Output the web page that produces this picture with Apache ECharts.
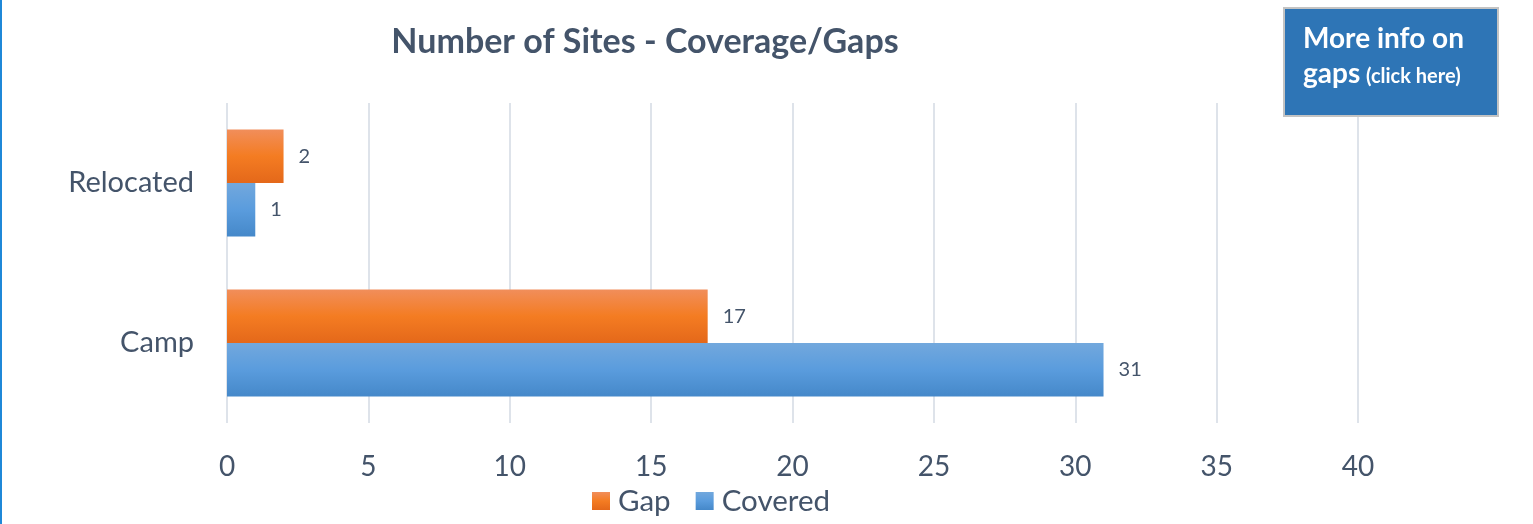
<!DOCTYPE html>
<html>
<head>
<meta charset="utf-8">
<script src="https://cdn.jsdelivr.net/npm/echarts@6/dist/echarts.min.js"></script>
<style>
html,body{margin:0;padding:0;background:#fff;}
#chart{width:1533px;height:524px;}
</style>
</head>
<body>
<div id="chart"></div>
<script>
const categories = ['Camp', 'Relocated'];
const gapValues = [17, 2];
const coveredValues = [31, 1];
const seriesNames = ['Gap', 'Covered'];
const xTicks = { min: 0, max: 40, interval: 5 };

const textColor = '#44546a';
const fontFam = 'Lato, "Open Sans", sans-serif';

const orangeGrad = new echarts.graphic.LinearGradient(0, 0, 0, 1, [
  { offset: 0, color: '#f18e5b' },
  { offset: 0.5, color: '#f47c22' },
  { offset: 1, color: '#e4681a' }
]);
const blueGrad = new echarts.graphic.LinearGradient(0, 0, 0, 1, [
  { offset: 0, color: '#72a8dd' },
  { offset: 0.5, color: '#5a9cdd' },
  { offset: 1, color: '#4588c9' }
]);

const chart = echarts.init(document.getElementById('chart'), null, { renderer: 'canvas' });

const labelCfg = {
  show: true,
  position: 'right',
  distance: 15,
  color: textColor,
  fontSize: 20,
  fontFamily: fontFam
};

chart.setOption({
  animation: false,
  textStyle: { fontFamily: fontFam },
  title: {
    text: 'Number of Sites - Coverage/Gaps',
    left: 640,
    textAlign: 'center',
    top: 20,
    textStyle: { color: textColor, fontSize: 34, fontWeight: 'bold', fontFamily: fontFam }
  },
  legend: {
    data: seriesNames,
    left: 587,
    top: 481,
    icon: 'rect',
    itemWidth: 18,
    itemHeight: 18,
    itemGap: 25,
    textStyle: { color: textColor, fontSize: 29.5, fontFamily: fontFam, padding: [0, 0, 0, 3] }
  },
  grid: { left: 227, right: 175, top: 103, bottom: 101, containLabel: false },
  xAxis: {
    type: 'value',
    min: xTicks.min,
    max: xTicks.max,
    interval: xTicks.interval,
    axisLine: { show: false },
    axisTick: { show: false },
    axisLabel: { color: textColor, fontSize: 28, margin: 30, fontFamily: fontFam },
    splitLine: { show: true, lineStyle: { color: '#dee3ea', width: 2 } }
  },
  yAxis: {
    type: 'category',
    data: categories,
    axisLine: { show: false },
    axisTick: { show: false },
    axisLabel: { color: textColor, fontSize: 29, margin: 33, fontFamily: fontFam },
    splitLine: { show: false }
  },
  series: [
    {
      name: seriesNames[0],
      type: 'bar',
      data: gapValues,
      barGap: '0%',
      barCategoryGap: '33%',
      itemStyle: { color: orangeGrad },
      label: labelCfg
    },
    {
      name: seriesNames[1],
      type: 'bar',
      data: coveredValues,
      barGap: '0%',
      barCategoryGap: '33%',
      itemStyle: { color: blueGrad },
      label: labelCfg
    }
  ],
  graphic: [
    {
      type: 'line',
      shape: { x1: 1, y1: 0, x2: 1, y2: 524 },
      style: { stroke: '#1f88d8', lineWidth: 2 }
    },
    {
      type: 'rect',
      shape: { x: 1284, y: 8, width: 214, height: 108 },
      style: { fill: '#2e75b6', stroke: '#c3c3c3', lineWidth: 2 },
      z: 100
    },
    {
      type: 'text',
      x: 1303, y: 39,
      style: { text: 'More info on', fill: '#ffffff', font: 'bold 28px Lato, "Open Sans", sans-serif', verticalAlign: 'middle' },
      z: 101
    },
    {
      type: 'text',
      x: 1303, y: 74,
      style: { text: 'gaps', fill: '#ffffff', font: 'bold 28px Lato, "Open Sans", sans-serif', verticalAlign: 'middle' },
      z: 101
    },
    {
      type: 'text',
      x: 1366, y: 77,
      style: { text: '(click here)', fill: '#ffffff', font: 'bold 20px Lato, "Open Sans", sans-serif', verticalAlign: 'middle' },
      z: 101
    }
  ]
});
</script>
</body>
</html>
